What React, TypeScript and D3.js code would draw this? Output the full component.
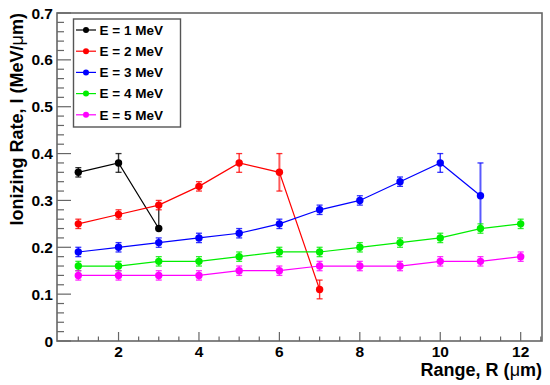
import React, { useEffect, useRef } from 'react';
import * as d3 from 'd3';

// Ionizing rate vs range for different energies
const rangeValues = [1, 2, 3, 4, 5, 6, 7, 8, 9, 10, 11, 12];

const energyLabels = ['E = 1 MeV', 'E = 2 MeV', 'E = 3 MeV', 'E = 4 MeV', 'E = 5 MeV'];
const energyColors = ['#000000', '#ff0000', '#0000ff', '#00ee00', '#ff00ff'];

const rateE1 = [0.36, 0.38, 0.24];
const rateE2 = [0.25, 0.27, 0.29, 0.33, 0.38, 0.36, 0.11];
const rateE3 = [0.19, 0.2, 0.21, 0.22, 0.23, 0.25, 0.28, 0.3, 0.34, 0.38, 0.31];
const rateE4 = [0.16, 0.16, 0.17, 0.17, 0.18, 0.19, 0.19, 0.2, 0.21, 0.22, 0.24, 0.25];
const rateE5 = [0.14, 0.14, 0.14, 0.14, 0.15, 0.15, 0.16, 0.16, 0.16, 0.17, 0.17, 0.18];

// error bars: [down, up]
const errE1 = [[0.01, 0.01], [0.02, 0.02], [0, 0.05]];
const errE2 = [[0.01, 0.01], [0.01, 0.01], [0.01, 0.01], [0.01, 0.01], [0.02, 0.02], [0.04, 0.04], [0.02, 0.02]];
const errE3 = [[0.01, 0.01], [0.01, 0.01], [0.01, 0.01], [0.01, 0.01], [0.01, 0.01], [0.01, 0.01], [0.01, 0.01], [0.01, 0.01], [0.01, 0.01], [0.02, 0.02], [0.07, 0.07]];
const errE4 = rateE4.map(() => [0.01, 0.01]);
const errE5 = rateE5.map(() => [0.01, 0.01]);

const seriesRates = [rateE1, rateE2, rateE3, rateE4, rateE5];
const seriesErrs = [errE1, errE2, errE3, errE4, errE5];

const W = 550;
const H = 385;
const FONT = '"Liberation Sans", Arial, Helvetica, sans-serif';

export default function App() {
  const svgRef = useRef<SVGSVGElement | null>(null);

  useEffect(() => {
    const svg = d3.select(svgRef.current);
    svg.selectAll('*').remove();

    const left = 57, right = 542, top = 13, bottom = 341;
    const x = d3.scaleLinear().domain([0.47, 12.53]).range([left, right]);
    const y = d3.scaleLinear().domain([0, 0.7]).range([bottom, top]);
    const frameColor = '#666';

    // frame
    svg.append('rect')
      .attr('x', left).attr('y', top)
      .attr('width', right - left).attr('height', bottom - top)
      .attr('fill', 'none').attr('stroke', frameColor).attr('stroke-width', 1.6);

    // x ticks (inside)
    const xMinor = d3.range(1, 12.51, 0.5);
    svg.append('g').selectAll('line').data(xMinor).join('line')
      .attr('x1', (d) => x(d)).attr('x2', (d) => x(d))
      .attr('y1', bottom)
      .attr('y2', (d) => bottom - (d % 2 === 0 ? 9 : 4.5))
      .attr('stroke', frameColor).attr('stroke-width', 1.2);

    svg.append('g').selectAll('text').data(d3.range(2, 13, 2)).join('text')
      .attr('x', (d) => x(d)).attr('y', 357)
      .attr('text-anchor', 'middle')
      .style('font', `bold 15.5px ${FONT}`)
      .text((d) => d);

    // y ticks (inside)
    const yMinor = d3.range(0, 0.701, 0.02);
    svg.append('g').selectAll('line').data(yMinor).join('line')
      .attr('x1', left)
      .attr('x2', (_d, i) => left + (i % 5 === 0 ? 14 : 7))
      .attr('y1', (d) => y(d)).attr('y2', (d) => y(d))
      .attr('stroke', frameColor).attr('stroke-width', 1.2);

    svg.append('g').selectAll('text').data(d3.range(0, 8)).join('text')
      .attr('x', 53).attr('y', (d) => y(d / 10))
      .attr('dy', '0.36em')
      .attr('text-anchor', 'end')
      .style('font', `bold 15.5px ${FONT}`)
      .text((d) => (d === 0 ? '0' : (d / 10).toFixed(1)));

    // axis titles
    const xt = svg.append('text')
      .attr('x', right).attr('y', 376)
      .attr('text-anchor', 'end')
      .style('font', `bold 18px ${FONT}`);
    xt.append('tspan').text('Range, R (');
    xt.append('tspan').style('font-weight', 'normal').text('μ');
    xt.append('tspan').text('m)');

    const yt = svg.append('text')
      .attr('transform', `translate(23,${top}) rotate(-90)`)
      .attr('text-anchor', 'end')
      .style('font', `bold 18px ${FONT}`);
    yt.append('tspan').text('Ionizing Rate, I (MeV/');
    yt.append('tspan').style('font-weight', 'normal').text('μ');
    yt.append('tspan').text('m)');

    // series
    const line = d3.line<number>()
      .x((_d, i) => x(rangeValues[i]))
      .y((d) => y(d));

    seriesRates.forEach((rates, s) => {
      const color = energyColors[s];
      const errs = seriesErrs[s];
      const g = svg.append('g');

      g.append('path')
        .attr('d', line(rates))
        .attr('fill', 'none')
        .attr('stroke', color)
        .attr('stroke-width', 1.2);

      rates.forEach((v, i) => {
        const cx = x(rangeValues[i]);
        const [dn, up] = errs[i];
        const big = dn + up > 0.05;
        const ec = s === 0 && big ? '#777' : color;
        g.append('line')
          .attr('x1', cx).attr('x2', cx)
          .attr('y1', y(v - dn)).attr('y2', y(v + up))
          .attr('stroke', ec)
          .attr('stroke-opacity', big ? 0.65 : 0.8)
          .attr('stroke-width', big ? 2 : 1.4);
        [v - dn, v + up].forEach((e, k) => {
          if ((k === 0 && dn === 0) || (s === 0 && big)) return;
          g.append('line')
            .attr('x1', cx - 3).attr('x2', cx + 3)
            .attr('y1', y(e)).attr('y2', y(e))
            .attr('stroke', color)
            .attr('stroke-opacity', 0.8)
            .attr('stroke-width', 1.3);
        });
      });

      g.selectAll('circle').data(rates).join('circle')
        .attr('cx', (_d, i) => x(rangeValues[i]))
        .attr('cy', (d) => y(d))
        .attr('r', 3.7)
        .attr('fill', color);
    });

    // legend
    const lg = svg.append('g');
    lg.append('rect')
      .attr('x', 73.5).attr('y', 19)
      .attr('width', 107).attr('height', 108)
      .attr('fill', 'white')
      .attr('stroke', '#555').attr('stroke-width', 1.4);
    energyLabels.forEach((label, i) => {
      const ly = 30 + i * 21.2;
      lg.append('line')
        .attr('x1', 76).attr('x2', 96)
        .attr('y1', ly).attr('y2', ly)
        .attr('stroke', energyColors[i]).attr('stroke-width', 1.2);
      lg.append('circle')
        .attr('cx', 86).attr('cy', ly).attr('r', 3)
        .attr('fill', energyColors[i]);
      lg.append('text')
        .attr('x', 99.5).attr('y', ly)
        .attr('dy', '0.36em')
        .style('font', `bold 13.5px ${FONT}`)
        .text(label);
    });
  }, []);

  return (
    <svg
      ref={svgRef}
      width={W}
      height={H}
      style={{ position: 'absolute', left: 0, top: 0, background: 'white' }}
    />
  );
}
